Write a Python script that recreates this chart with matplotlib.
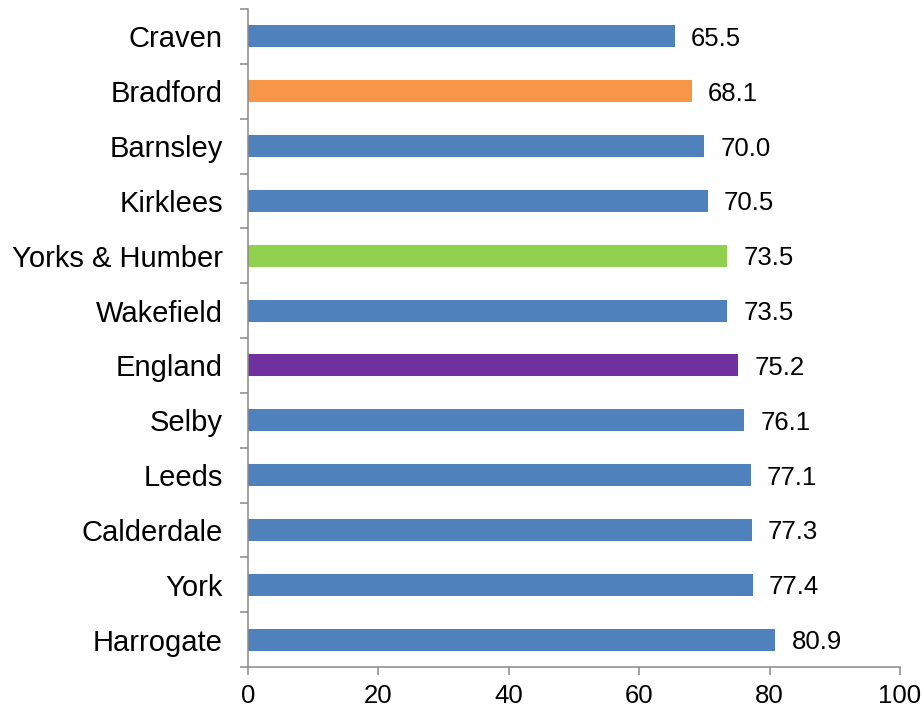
import numpy as np
from matplotlib import pyplot as plt
from matplotlib.ticker import FixedLocator

plt.rcParams['font.family'] = ['Liberation Sans', 'DejaVu Sans']

# areas, top to bottom
areas = ['Craven', 'Bradford', 'Barnsley', 'Kirklees', 'Yorks & Humber', 'Wakefield',
         'England', 'Selby', 'Leeds', 'Calderdale', 'York', 'Harrogate']
values = [65.5, 68.1, 70.0, 70.5, 73.5, 73.5, 75.2, 76.1, 77.1, 77.3, 77.4, 80.9]
x_ticks = [0, 20, 40, 60, 80, 100]

blue = '#4F81BD'
special = {'Bradford': '#F79646', 'Yorks & Humber': '#92D050', 'England': '#7030A0'}
colors = [special.get(a, blue) for a in areas]

fig = plt.figure(figsize=(9.23, 7.12), dpi=100)
ax = fig.add_axes([248 / 923, 1 - 667 / 712, (900 - 248) / 923, (667 - 9) / 712])

y = np.arange(len(areas))
ax.barh(y, values, height=0.4, color=colors)
for yi, v in zip(y, values):
    ax.annotate(f'{v:.1f}', (v, yi), xytext=(11.5, 0), textcoords='offset points',
                va='center_baseline', ha='left', fontsize=18.5)

ax.set_ylim(len(areas) - 0.5, -0.5)
ax.set_xlim(0, 100)
ax.set_yticks(y)
ax.set_yticklabels(areas, fontsize=21)
ax.yaxis.set_minor_locator(FixedLocator(np.arange(-0.5, len(areas), 1)))
ax.tick_params(axis='y', which='major', length=0, pad=18)
ax.tick_params(axis='y', which='minor', length=6, width=1.1, color='#898989', direction='out')
ax.set_xticks(x_ticks)
ax.set_xticklabels([str(t) for t in x_ticks], fontsize=18.5)
ax.tick_params(axis='x', length=6, width=1.1, color='#898989', direction='out', pad=6)

for s in ['top', 'right']:
    ax.spines[s].set_visible(False)
for s in ['left', 'bottom']:
    ax.spines[s].set_color('#898989')
    ax.spines[s].set_linewidth(1.1)

fig.savefig('out.png', dpi=100)
